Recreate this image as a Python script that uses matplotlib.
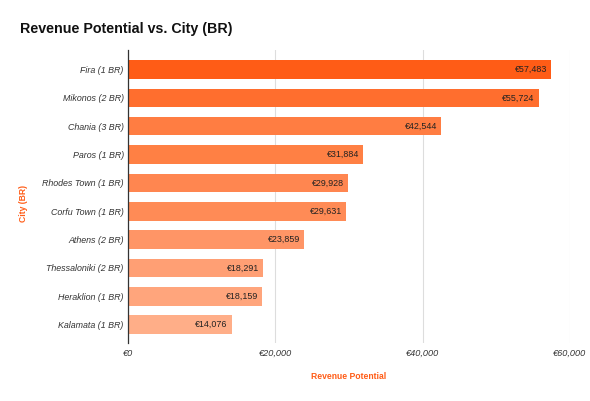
import matplotlib.pyplot as plt
import matplotlib.ticker as mticker

# Data
cities = ['Fira (1 BR)', 'Mikonos (2 BR)', 'Chania (3 BR)', 'Paros (1 BR)', 'Rhodes Town (1 BR)',
          'Corfu Town (1 BR)', 'Athens (2 BR)', 'Thessaloniki (2 BR)', 'Heraklion (1 BR)', 'Kalamata (1 BR)']
revenue = [57483, 55724, 42544, 31884, 29928, 29631, 23859, 18291, 18159, 14076]
x_ticks = [0, 20000, 40000, 60000]

bar_colors = ['#FF5C16', '#FF6E2E', '#FF7D42', '#FF8044', '#FF8650',
              '#FF8B56', '#FF9566', '#FF9F74', '#FFA57C', '#FFAE88']

plt.rcParams['font.family'] = ['Liberation Sans', 'DejaVu Sans']

fig = plt.figure(figsize=(5.9, 4.01), dpi=100)
ax = fig.add_axes([128 / 590, 1 - 343 / 401, 442 / 590, 293 / 401])

pos = list(range(len(cities)))
ax.barh(pos, revenue, height=0.65, color=bar_colors, zorder=2)

for p, v in zip(pos, revenue):
    ax.text(v - 550, p, '€{:,}'.format(v), ha='right', va='center',
            fontsize=6.4, color='#222222', zorder=3)

ax.set_xlim(0, 60000)
ax.set_ylim(9.645, -0.688)
ax.set_yticks(pos)
ax.set_yticklabels(cities, fontsize=6.4, style='italic', color='#333333')
ax.set_xticks(x_ticks)
ax.xaxis.set_major_formatter(mticker.FuncFormatter(lambda v, _: '€{:,.0f}'.format(v)))
for lbl in ax.get_xticklabels():
    lbl.set_fontsize(6.6)
    lbl.set_style('italic')
    lbl.set_color('#333333')

ax.tick_params(axis='y', length=0, pad=3)
ax.tick_params(axis='x', length=0, pad=4.5)
ax.grid(axis='x', color='#DDDDDD', linewidth=0.8, zorder=0)
for s in ['top', 'right', 'bottom']:
    ax.spines[s].set_visible(False)
ax.spines['left'].set_color('#333333')
ax.spines['left'].set_linewidth(0.9)
ax.spines['left'].set_zorder(4)

ax.set_xlabel('Revenue Potential', fontsize=6.2, fontweight='bold', color='#FF5C16', labelpad=10)
ax.set_ylabel('City (BR)', fontsize=6.2, fontweight='bold', color='#FF5C16')
ax.yaxis.set_label_coords((24 - 128) / 442, (343 - 204) / 293)
ax.yaxis.label.set_va('center')

fig.text(20 / 590, 1 - 29 / 401, 'Revenue Potential vs. City (BR)', fontsize=10.3,
         fontweight='bold', color='#111111', va='center', ha='left')

fig.savefig('out.png', dpi=100, facecolor='white')
